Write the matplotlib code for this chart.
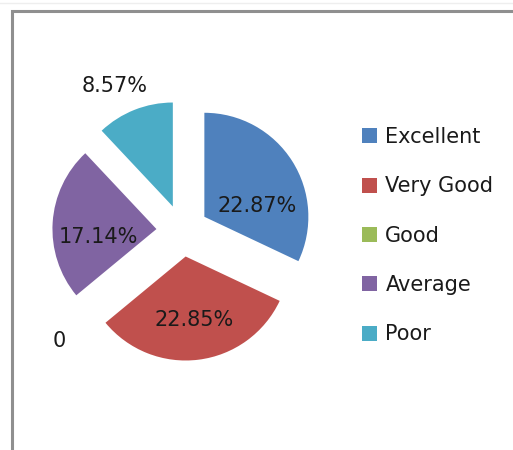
import matplotlib.pyplot as plt
from matplotlib.patches import Rectangle
from matplotlib.lines import Line2D

# data
categories = ["Excellent", "Very Good", "Good", "Average", "Poor"]
values = [22.87, 22.85, 0, 17.14, 8.57]
labels = ["22.87%", "22.85%", "0", "17.14%", "8.57%"]
colors = ["#4F81BD", "#C0504D", "#9BBB59", "#8064A2", "#4BACC6"]

# label positions (relative to pie centre, in radius units)
label_pos = [(0.717, 0.238), (0.112, -0.86), (-1.186, -1.06), (-0.807, -0.06), (-0.648, 1.39)]

W, H = 513, 450
R = 104.0              # pie radius in px
cx, cy = 182.4, 230.7  # pie centre in px (from top-left)

fig = plt.figure(figsize=(W / 100, H / 100), dpi=100)
fig.patch.set_facecolor("white")

# outer frame
fig.add_artist(Line2D([0, 1], [1 - 3 / H, 1 - 3 / H], color="#eeeeee", lw=1))
fig.add_artist(Rectangle((11.5 / W, -0.1), 1.2, 1.1 - 11 / H, transform=fig.transFigure,
                         fill=False, edgecolor="#8f8f8f", lw=2.2))

ax = fig.add_axes([0, 0, 1, 1])
ax.set_axis_off()

wedges, _ = ax.pie(values, colors=colors, startangle=90, counterclock=False,
                   explode=[0.25] * 5, radius=1, wedgeprops=dict(linewidth=0))

ax.set_xlim(-cx / R, (W - cx) / R)
ax.set_ylim(-(H - cy) / R, cy / R)
ax.set_aspect("auto")

fs = 15
for txt, (x, y) in zip(labels, label_pos):
    ax.text(x, y, txt, ha="center", va="center", fontsize=fs, color="#1a1a1a",
            family="DejaVu Sans")

handles = [Rectangle((0, 0), 1, 1, facecolor=c, edgecolor="none") for c in colors]
leg = fig.legend(handles, categories, loc="upper left",
                 bbox_to_anchor=(362 / W, 1 - 127 / H),
                 frameon=False, handlelength=0.72, handleheight=0.72,
                 handletextpad=0.4, labelspacing=1.41, borderpad=0, borderaxespad=0,
                 prop={"family": "DejaVu Sans", "size": fs})
for t in leg.get_texts():
    t.set_color("#1a1a1a")

fig.savefig("out.png", dpi=100, facecolor="white")
